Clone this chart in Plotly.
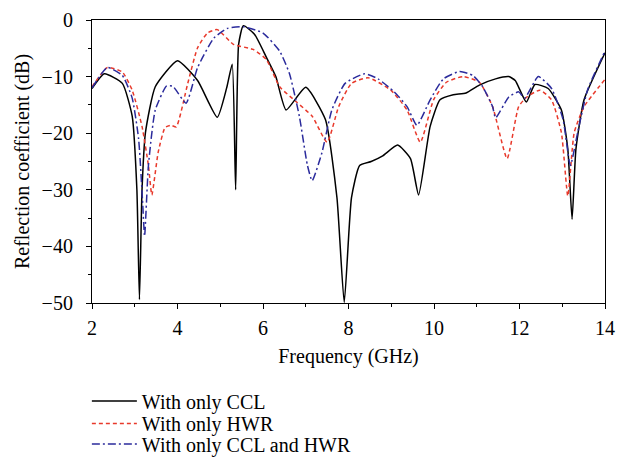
import plotly.graph_objects as go

# --- data ---
ccl_x = [2.0, 2.29, 2.71, 2.94, 3.05, 3.11, 3.17, 3.25, 3.48, 4.0, 4.47, 4.93, 5.15, 5.28, 5.36,
         5.43, 5.54, 5.8, 6.08, 6.3, 6.54, 7.0, 7.46, 7.73, 7.90, 8.07, 8.26, 8.53, 8.8, 9.15,
         9.45, 9.64, 9.91, 10.14, 10.45, 10.75, 11.06, 11.44, 11.75, 11.90, 12.16, 12.36, 12.67,
         12.98, 13.13, 13.23, 13.32, 13.51, 14.0]
ccl_y = [-12.1, -9.5, -11.2, -17.0, -30.0, -49.4, -30.0, -19.9, -11.8, -7.2, -10.7, -17.2, -12.0,
         -7.8, -30.0, -4.3, -1.0, -2.5, -6.6, -10.0, -15.9, -11.9, -17.6, -31.4, -49.9, -31.4,
         -25.7, -25.0, -24.0, -22.1, -24.5, -30.9, -18.8, -14.1, -13.2, -12.9, -11.5, -10.4,
         -10.0, -10.7, -14.5, -11.4, -12.1, -15.9, -22.8, -35.2, -22.8, -14.1, -5.8]

hwr_x = [2.0, 2.36, 2.71, 2.94, 3.17, 3.32, 3.40, 3.55, 3.71, 3.85, 3.97, 4.24, 4.47, 4.70, 4.93,
         5.31, 5.77, 6.08, 6.39, 6.77, 7.15, 7.50, 7.77, 8.07, 8.46, 8.99, 9.37, 9.68, 9.99,
         10.29, 10.68, 11.06, 11.37, 11.71, 11.98, 12.17, 12.48, 12.75, 12.98, 13.13, 13.28,
         13.51, 14.0]
hwr_y = [-11.8, -8.4, -9.2, -12.4, -18.8, -25.7, -30.9, -23.3, -19.0, -18.6, -18.9, -11.2, -4.9,
         -2.3, -1.7, -4.3, -5.2, -7.0, -11.8, -14.4, -17.0, -21.6, -15.3, -11.2, -10.2, -12.4,
         -15.9, -21.6, -14.1, -11.0, -10.0, -11.0, -15.3, -24.5, -15.3, -13.6, -12.4, -14.1,
         -19.9, -31.1, -19.9, -15.3, -10.5]

both_x = [2.0, 2.36, 2.71, 2.94, 3.09, 3.18, 3.23, 3.32, 3.48, 3.74, 3.89, 4.20, 4.47, 4.85, 5.16,
          5.54, 6.0, 6.39, 6.62, 6.85, 7.04, 7.15, 7.38, 7.61, 7.92, 8.38, 8.69, 9.07, 9.37,
          9.60, 9.91, 10.22, 10.60, 10.91, 11.14, 11.37, 11.44, 11.75, 11.98, 12.12, 12.44,
          12.75, 13.02, 13.19, 13.36, 13.59, 14.0]
both_y = [-12.0, -8.4, -9.8, -13.8, -21.0, -31.6, -38.2, -25.7, -15.9, -11.7, -11.7, -14.7, -8.4,
          -3.2, -1.5, -1.2, -2.3, -5.5, -9.5, -17.0, -25.7, -28.4, -23.4, -15.9, -11.2, -9.5,
          -10.4, -12.7, -15.3, -18.6, -14.1, -10.4, -9.1, -9.8, -11.8, -15.3, -17.3, -13.6,
          -12.7, -13.8, -10.0, -12.1, -17.6, -25.7, -19.9, -12.4, -5.5]

names = ["With only CCL", "With only HWR", "With only CCL and HWR"]

FONT = "Liberation Serif"
FS = 20

fig = go.Figure()
fig.add_trace(go.Scatter(x=ccl_x, y=ccl_y, mode="lines", name=names[0], legend="legend",
                         showlegend=True,
                         line=dict(color="black", width=1.5, shape="spline", smoothing=0.5)))
fig.add_trace(go.Scatter(x=hwr_x, y=hwr_y, mode="lines", name=names[1], legend="legend2",
                         showlegend=True,
                         line=dict(color="#e8392b", width=1.5, dash="4px,3px",
                                   shape="spline", smoothing=0.5)))
fig.add_trace(go.Scatter(x=both_x, y=both_y, mode="lines", name=names[2], legend="legend3",
                         showlegend=True,
                         line=dict(color="#2b2b9c", width=1.5, dash="8px,3px,2px,3px",
                                   shape="spline", smoothing=0.5)))

axis_common = dict(showline=True, linecolor="black", linewidth=1.2, mirror=True,
                   ticks="outside", ticklen=5, tickcolor="black", showgrid=False,
                   zeroline=False, tickfont=dict(family=FONT, size=FS, color="black"))

fig.update_xaxes(range=[2, 14], dtick=2, tick0=2, ticklabelstandoff=2,
                 minor=dict(dtick=1, ticks="outside", ticklen=3, tickcolor="black"),
                 title=dict(text="Frequency (GHz)", font=dict(family=FONT, size=FS, color="black"),
                            standoff=10),
                 **axis_common)
fig.update_yaxes(range=[-50, 0], dtick=10, ticklabelstandoff=9,
                 minor=dict(dtick=5, ticks="outside", ticklen=3, tickcolor="black"),
                 title=dict(text="Reflection coefficient (dB)",
                            font=dict(family=FONT, size=FS, color="black"), standoff=6),
                 **axis_common)

leg_common = dict(x=-0.01, xanchor="left", yanchor="middle", itemwidth=45,
                  font=dict(family=FONT, size=FS, color="black"),
                  bgcolor="rgba(0,0,0,0)", visible=True)

fig.update_layout(
    width=624, height=473,
    showlegend=True,
    margin=dict(l=92, r=9, t=18, b=166),
    plot_bgcolor="white", paper_bgcolor="white",
    font=dict(family=FONT, color="black"),
    legend=dict(y=-0.346, **leg_common),
    legend2=dict(y=-0.426, **leg_common),
    legend3=dict(y=-0.498, **leg_common),
)

fig.write_html("out.html")
